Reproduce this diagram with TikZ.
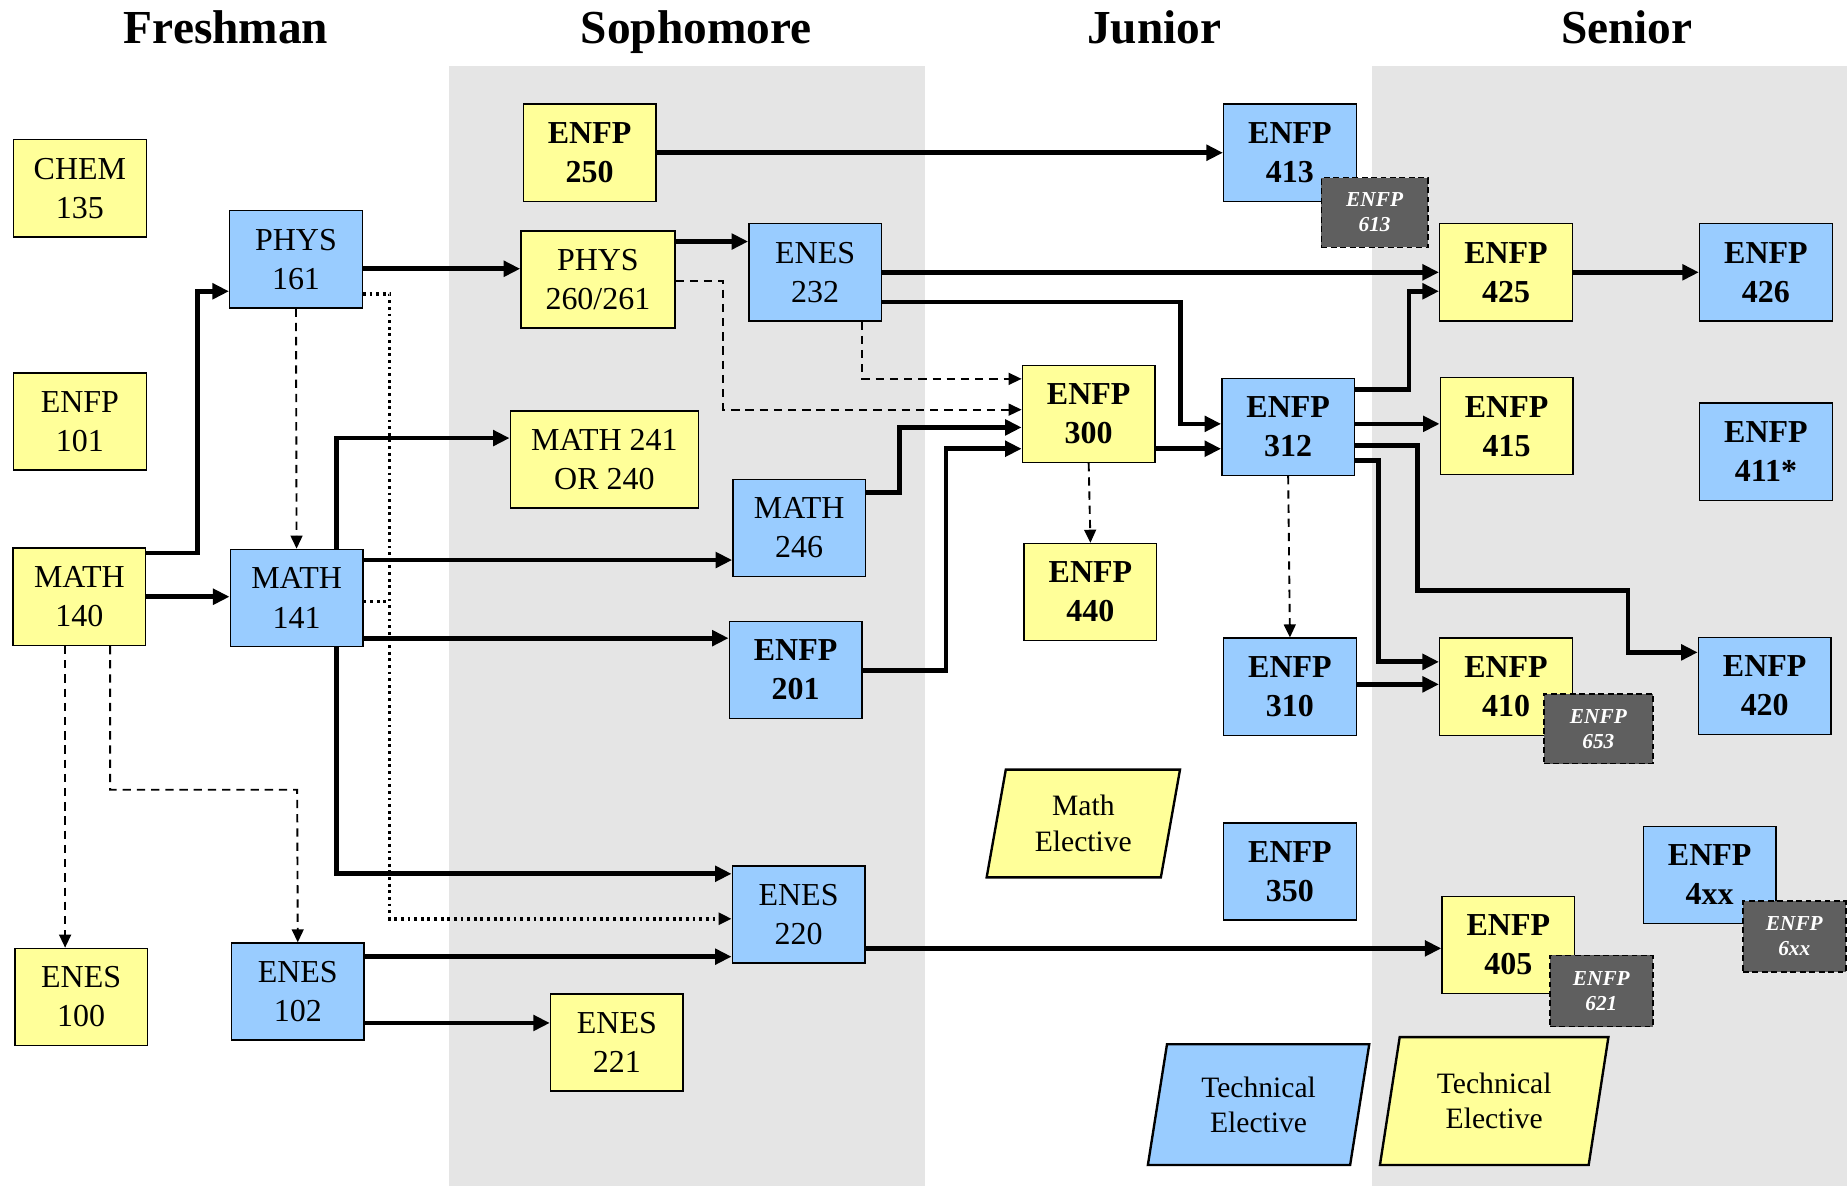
\documentclass[tikz,border=0pt]{standalone}
\usepackage{fontspec}
\setmainfont{Liberation Serif}
\usetikzlibrary{arrows.meta,shapes.geometric}
\definecolor{cyel}{HTML}{FFFF99}
\definecolor{cblu}{HTML}{99CCFF}
\definecolor{cgrad}{HTML}{5F5F5F}
\definecolor{cband}{HTML}{E5E5E5}
\begin{document}
\begin{tikzpicture}[x=0.5pt,y=-0.5pt,
  box/.style={draw, line width=0.6pt, minimum width=56pt, minimum height=41pt, inner sep=0pt, align=center, font=\fontsize{13.5}{16.5}\selectfont},
  ybox/.style={box, fill=cyel},
  bbox/.style={box, fill=cblu},
  ybold/.style={ybox, font=\fontsize{13.5}{16.5}\selectfont\bfseries},
  bbold/.style={bbox, font=\fontsize{13.5}{16.5}\selectfont\bfseries},
  grad/.style={draw, line width=0.6pt, dash pattern=on 2.5pt off 1.5pt, fill=cgrad, text=white, minimum width=45pt, minimum height=29.5pt, inner sep=0pt, align=center, font=\fontsize{9}{10.5}\selectfont\bfseries\itshape},
  elect/.style={draw, line width=1pt, trapezium, trapezium left angle=78, trapezium right angle=102, trapezium stretches=true, inner sep=0pt, align=center, font=\fontsize{12.5}{15}\selectfont},
  year/.style={anchor=base, font=\fontsize{20}{24}\selectfont\bfseries},
  arr/.style={line width=2pt, -{Triangle[length=7pt,width=6.5pt]}},
  darr/.style={line width=0.8pt, dash pattern=on 3.5pt off 2.5pt, -{Triangle[length=5.5pt,width=5pt]}},
  dots/.style={line width=1.6pt, dash pattern=on 1.2pt off 1.6pt}]
\useasboundingbox (0,0) rectangle (1560,1002);
% year bands
\fill[cband] (379,56) rectangle (781,1002);
\fill[cband] (1159,56) rectangle (1560,1002);
\node[year] (fresh) at (191,37) {Freshman};
\node[year] (soph) at (588,37) {Sophomore};
\node[year] (jun) at (975,37) {Junior};
\node[year] (sen) at (1374,37) {Senior};
% freshman
\node[ybox] (chem135) at (67.5,159) {CHEM\\135};
\node[ybox] (enfp101) at (67.5,356) {ENFP\\101};
\node[ybox] (math140) at (67,504) {MATH\\140};
\node[ybox] (enes100) at (68.5,842) {ENES\\100};
\node[bbox] (phys161) at (250,219) {PHYS\\161};
\node[bbox] (math141) at (250.5,505) {MATH\\141};
\node[bbox] (enes102) at (251.5,837.5) {ENES\\102};
% sophomore
\node[ybold] (enfp250) at (498,129) {ENFP\\250};
\node[ybox, minimum width=65pt] (phys260) at (505,236) {PHYS\\260/261};
\node[ybox, minimum width=79.5pt] (math241) at (510.5,388) {MATH 241\\OR 240};
\node[bbox] (enes232) at (688.5,230) {ENES\\232};
\node[bbox] (math246) at (675,446) {MATH\\246};
\node[bbold] (enfp201) at (672,566) {ENFP\\201};
\node[bbox] (enes220) at (674.5,772.5) {ENES\\220};
\node[ybox] (enes221) at (521,880.5) {ENES\\221};
% junior
\node[bbold] (enfp413) at (1089.5,129) {ENFP\\413};
\node[grad] (enfp613) at (1161,179.5) {ENFP\\613};
\node[ybold] (enfp300) at (919.5,349.5) {ENFP\\300};
\node[ybold] (enfp440) at (921,500) {ENFP\\440};
\node[bbold] (enfp312) at (1088,360.5) {ENFP\\312};
\node[bbold] (enfp310) at (1089.5,580) {ENFP\\310};
\node[elect, fill=cyel, minimum width=82pt, minimum height=45.5pt] (mathel) at (915,695.5) {Math\\Elective};
\node[bbold] (enfp350) at (1089.5,736) {ENFP\\350};
\node[elect, fill=cblu, minimum width=94pt, minimum height=51pt] (techb) at (1063,933) {Technical\\Elective};
% senior
\node[ybold] (enfp425) at (1272,230) {ENFP\\425};
\node[ybold] (enfp415) at (1272.5,360) {ENFP\\415};
\node[ybold] (enfp410) at (1272,580) {ENFP\\410};
\node[grad, minimum width=46pt] (enfp653) at (1350,615.5) {ENFP\\653};
\node[ybold] (enfp405) at (1274,798) {ENFP\\405};
\node[grad, minimum width=43.5pt, minimum height=30pt] (enfp621) at (1352.5,837) {ENFP\\621};
\node[elect, fill=cyel, minimum width=97pt, minimum height=54pt] (techy) at (1262,930) {Technical\\Elective};
\node[bbold] (enfp426) at (1491.5,230) {ENFP\\426};
\node[bbold] (enfp411) at (1491.5,381.5) {ENFP\\411*};
\node[bbold] (enfp420) at (1490.5,579.5) {ENFP\\420};
\node[bbold] (enfp4xx) at (1444,739) {ENFP\\4xx};
\node[grad, minimum width=43.5pt, minimum height=30pt] (enfp6xx) at (1515.5,791) {ENFP\\6xx};
% prerequisites
\draw[arr] (enfp250.east) -- (enfp413.west);
\draw[arr] (phys161.east |- 0,227) -- (phys260.west |- 0,227);
\draw[arr] (math140.east |- 0,467) -| (167,246) -- (phys161.west |- 0,246);
\draw[arr] (math140.east |- 0,504) -- (math141.west |- 0,504);
\draw[darr] (phys161.south) -- (math141.north);
\draw[dots, -{Triangle[length=5.5pt,width=5pt]}] (phys161.east |- 0,248) -| (329,776) -- (enes220.west |- 0,776);
\draw[dots] (math141.east |- 0,508) -- (329,508);
\draw[arr] (phys260.east |- 0,204) -- (enes232.west |- 0,204);
\draw[darr] (phys260.east |- 0,237) -| (611,346) -- (enfp300.west |- 0,346);
\draw[darr] (enes232.south -| 728,0) |- (enfp300.west |- 0,320);
\draw[arr] (enes232.east) -- (enfp425.west);
\draw[arr] (enes232.east |- 0,255) -| (997,358) -- (enfp312.west |- 0,358);
\draw[arr] (math141.north -| 284,0) |- (math241.west |- 0,370);
\draw[arr] (math141.east |- 0,473) -- (math246.west |- 0,473);
\draw[arr] (math141.east |- 0,539) -- (enfp201.west |- 0,539);
\draw[arr] (math141.south -| 284,0) |- (enes220.west |- 0,738);
\draw[darr] (math140.south -| 55,0) -- (enes100.north -| 55,0);
\draw[darr] (math140.south -| 93,0) |- (251,667) -- (enes102.north);
\draw[arr] (enes102.east |- 0,808) -- (enes220.west |- 0,808);
\draw[arr] (enes102.east |- 0,864) -- (enes221.west |- 0,864);
\draw[arr] (math246.east |- 0,416) -| (760,361) -- (enfp300.west |- 0,361);
\draw[arr] (enfp201.east) -| (799,379) -- (enfp300.west |- 0,379);
\draw[arr] (enes220.east |- 0,801) -- (enfp405.west |- 0,801);
\draw[arr] (enfp300.east |- 0,379) -- (enfp312.west |- 0,379);
\draw[darr] (enfp300.south) -- (enfp440.north);
\draw[arr] (enfp312.east |- 0,329) -| (1190,246) -- (enfp425.west |- 0,246);
\draw[arr] (enfp312.east |- 0,358) -- (enfp415.west |- 0,358);
\draw[arr] (enfp312.east |- 0,376) -| (1197,499) -| (1375,551) -- (enfp420.west |- 0,551);
\draw[arr] (enfp312.east |- 0,389) -| (1164,559) -- (enfp410.west |- 0,559);
\draw[darr] (enfp312.south) -- (enfp310.north);
\draw[arr] (enfp310.east |- 0,578) -- (enfp410.west |- 0,578);
\draw[arr] (enfp425.east) -- (enfp426.west);
\end{tikzpicture}
\end{document}
